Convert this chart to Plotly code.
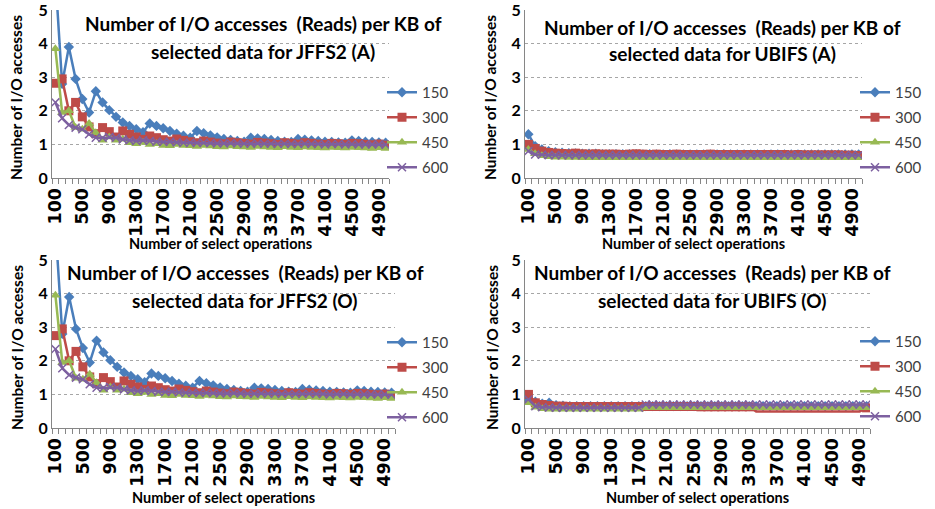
import plotly.graph_objects as go

# ---------------- data ----------------
ops = list(range(100, 5001, 100))
series_names = ["150", "300", "450", "600"]
tick_vals = list(range(100, 5000, 400))
tick_labels = [str(v) for v in tick_vals]
y_ticks = [0, 1, 2, 3, 4, 5]

jffs2_a_150 = [6.0, 2.8, 3.9, 2.95, 2.35, 1.95, 2.58, 2.25, 2.02, 1.82,
               1.65, 1.55, 1.45, 1.36, 1.62, 1.55, 1.48, 1.4, 1.32, 1.26,
               1.2, 1.4, 1.33, 1.27, 1.21, 1.16, 1.13, 1.1, 1.08, 1.2,
               1.18, 1.16, 1.13, 1.1, 1.08, 1.07, 1.16, 1.14, 1.12, 1.1,
               1.08, 1.07, 1.06, 1.05, 1.12, 1.1, 1.08, 1.07, 1.06, 1.05]
jffs2_a_300 = [2.82, 2.95, 2.0, 2.25, 1.82, 1.52, 1.32, 1.5, 1.38, 1.22,
               1.4, 1.3, 1.22, 1.15, 1.25, 1.2, 1.14, 1.1, 1.16, 1.12,
               1.08, 1.05, 1.1, 1.07, 1.04, 1.02, 1.07, 1.05, 1.03, 1.01,
               1.06, 1.04, 1.02, 1.0, 1.05, 1.03, 1.01, 1.05, 1.03, 1.01,
               1.0, 1.03, 1.02, 1.0, 1.03, 1.02, 1.0, 0.99, 1.01, 0.98]
jffs2_a_450 = [3.85, 1.95, 2.0, 1.5, 1.45, 1.62, 1.35, 1.12, 1.22, 1.12,
               1.15, 1.05, 1.02, 1.06, 1.0, 1.02, 0.97, 0.96, 1.0, 0.97,
               0.96, 0.94, 0.97, 0.95, 0.93, 0.92, 0.95, 0.93, 0.92, 0.91,
               0.94, 0.92, 0.91, 0.9, 0.93, 0.91, 0.9, 0.92, 0.91, 0.9,
               0.89, 0.91, 0.9, 0.89, 0.91, 0.9, 0.89, 0.88, 0.9, 0.88]
jffs2_a_600 = [2.25, 1.78, 1.58, 1.5, 1.45, 1.3, 1.2, 1.2, 1.22, 1.2,
               1.15, 1.12, 1.1, 1.12, 1.1, 1.08, 1.07, 1.08, 1.06, 1.05,
               1.05, 1.04, 1.05, 1.04, 1.03, 1.03, 1.04, 1.03, 1.02, 1.02,
               1.03, 1.02, 1.02, 1.01, 1.02, 1.01, 1.01, 1.02, 1.01, 1.01,
               1.0, 1.01, 1.01, 1.0, 1.01, 1.0, 1.0, 1.0, 1.0, 0.99]

ubifs_a_150 = [1.3, 0.95, 0.85, 0.8, 0.77, 0.75, 0.74, 0.73, 0.72, 0.72,
               0.72, 0.71, 0.71, 0.71, 0.71, 0.71, 0.71, 0.7, 0.71, 0.7,
               0.7, 0.71, 0.7, 0.7, 0.7, 0.7, 0.7, 0.7, 0.7, 0.71,
               0.7, 0.7, 0.7, 0.7, 0.7, 0.7, 0.7, 0.7, 0.7, 0.7,
               0.7, 0.7, 0.7, 0.7, 0.7, 0.7, 0.7, 0.7, 0.7, 0.7]
ubifs_a_300 = [1.0, 0.88, 0.8, 0.76, 0.74, 0.73, 0.72, 0.74, 0.72, 0.71,
               0.72, 0.71, 0.71, 0.71, 0.7, 0.71, 0.72, 0.71, 0.7, 0.71,
               0.7, 0.7, 0.71, 0.7, 0.7, 0.7, 0.7, 0.71, 0.7, 0.7,
               0.7, 0.7, 0.7, 0.7, 0.7, 0.7, 0.7, 0.7, 0.7, 0.69,
               0.7, 0.69, 0.69, 0.69, 0.69, 0.69, 0.69, 0.68, 0.68, 0.67]
ubifs_a_450 = [0.85, 0.72, 0.66, 0.63, 0.62, 0.62, 0.61, 0.61, 0.6, 0.6,
               0.6, 0.6, 0.6, 0.6, 0.6, 0.6, 0.6, 0.6, 0.6, 0.6,
               0.6, 0.6, 0.6, 0.6, 0.6, 0.6, 0.6, 0.6, 0.6, 0.6,
               0.6, 0.6, 0.6, 0.6, 0.6, 0.6, 0.6, 0.6, 0.6, 0.6,
               0.6, 0.6, 0.6, 0.6, 0.6, 0.6, 0.6, 0.6, 0.6, 0.6]
ubifs_a_600 = [0.8, 0.7, 0.69, 0.68, 0.68, 0.68, 0.68, 0.68, 0.68, 0.68,
               0.68, 0.68, 0.68, 0.68, 0.68, 0.68, 0.68, 0.68, 0.68, 0.68,
               0.68, 0.68, 0.68, 0.68, 0.68, 0.68, 0.68, 0.68, 0.68, 0.68,
               0.68, 0.68, 0.68, 0.68, 0.68, 0.68, 0.68, 0.68, 0.68, 0.68,
               0.68, 0.68, 0.68, 0.68, 0.68, 0.68, 0.68, 0.68, 0.68, 0.68]

jffs2_o_150 = [6.0, 2.8, 3.9, 2.95, 2.38, 1.95, 2.6, 2.25, 2.02, 1.82,
               1.65, 1.55, 1.45, 1.36, 1.62, 1.55, 1.48, 1.4, 1.32, 1.26,
               1.2, 1.4, 1.33, 1.27, 1.21, 1.16, 1.13, 1.1, 1.08, 1.2,
               1.18, 1.16, 1.13, 1.1, 1.08, 1.07, 1.16, 1.14, 1.12, 1.1,
               1.08, 1.07, 1.06, 1.05, 1.12, 1.1, 1.08, 1.07, 1.06, 1.05]
jffs2_o_300 = [2.75, 2.95, 2.0, 2.28, 1.82, 1.52, 1.32, 1.5, 1.38, 1.22,
               1.4, 1.3, 1.22, 1.15, 1.25, 1.2, 1.14, 1.1, 1.16, 1.12,
               1.08, 1.05, 1.1, 1.07, 1.04, 1.02, 1.07, 1.05, 1.03, 1.01,
               1.06, 1.04, 1.02, 1.0, 1.05, 1.03, 1.01, 1.05, 1.03, 1.01,
               1.0, 1.03, 1.02, 1.0, 1.03, 1.02, 1.0, 0.99, 1.01, 0.97]
jffs2_o_450 = [3.95, 1.95, 2.0, 1.48, 1.45, 1.6, 1.35, 1.12, 1.22, 1.12,
               1.15, 1.05, 1.02, 1.06, 1.0, 1.02, 0.97, 0.96, 1.0, 0.97,
               0.96, 0.94, 0.97, 0.95, 0.93, 0.92, 0.95, 0.93, 0.92, 0.91,
               0.94, 0.92, 0.91, 0.9, 0.93, 0.91, 0.9, 0.92, 0.91, 0.9,
               0.89, 0.91, 0.9, 0.89, 0.91, 0.9, 0.89, 0.88, 0.9, 0.88]
jffs2_o_600 = [2.35, 1.78, 1.58, 1.5, 1.45, 1.3, 1.2, 1.2, 1.22, 1.2,
               1.15, 1.12, 1.1, 1.12, 1.1, 1.08, 1.07, 1.08, 1.06, 1.05,
               1.05, 1.04, 1.05, 1.04, 1.03, 1.03, 1.04, 1.03, 1.02, 1.02,
               1.03, 1.02, 1.02, 1.01, 1.02, 1.01, 1.01, 1.02, 1.01, 1.01,
               1.0, 1.01, 1.01, 1.0, 1.01, 1.0, 1.0, 1.0, 1.0, 0.99]

ubifs_o_150 = [0.85, 0.78, 0.72, 0.75, 0.68, 0.66, 0.65, 0.65, 0.65, 0.65,
               0.65, 0.65, 0.65, 0.65, 0.65, 0.65, 0.65, 0.65, 0.65, 0.65,
               0.65, 0.65, 0.65, 0.65, 0.65, 0.65, 0.65, 0.65, 0.65, 0.65,
               0.65, 0.65, 0.65, 0.65, 0.65, 0.65, 0.65, 0.65, 0.65, 0.65,
               0.65, 0.65, 0.65, 0.65, 0.65, 0.65, 0.65, 0.65, 0.65, 0.65]
ubifs_o_300 = [1.0, 0.75, 0.7, 0.67, 0.65, 0.65, 0.64, 0.64, 0.64, 0.64,
               0.64, 0.64, 0.64, 0.64, 0.64, 0.64, 0.64, 0.64, 0.64, 0.64,
               0.64, 0.64, 0.64, 0.64, 0.64, 0.63, 0.63, 0.63, 0.63, 0.63,
               0.63, 0.63, 0.63, 0.49, 0.49, 0.49, 0.49, 0.49, 0.49, 0.49,
               0.49, 0.49, 0.49, 0.49, 0.49, 0.49, 0.49, 0.49, 0.49, 0.6]
ubifs_o_450 = [0.75, 0.62, 0.57, 0.56, 0.56, 0.56, 0.56, 0.56, 0.56, 0.56,
               0.56, 0.56, 0.56, 0.56, 0.56, 0.56, 0.56, 0.6, 0.6, 0.6,
               0.6, 0.6, 0.6, 0.6, 0.6, 0.6, 0.6, 0.6, 0.6, 0.6,
               0.6, 0.6, 0.6, 0.6, 0.6, 0.6, 0.6, 0.6, 0.6, 0.6,
               0.6, 0.6, 0.6, 0.6, 0.6, 0.6, 0.6, 0.6, 0.6, 0.6]
ubifs_o_600 = [0.85, 0.65, 0.62, 0.61, 0.6, 0.6, 0.6, 0.6, 0.6, 0.6,
               0.6, 0.6, 0.6, 0.6, 0.6, 0.6, 0.6, 0.7, 0.7, 0.7,
               0.7, 0.7, 0.7, 0.7, 0.7, 0.7, 0.7, 0.7, 0.7, 0.7,
               0.7, 0.7, 0.7, 0.7, 0.7, 0.7, 0.7, 0.7, 0.7, 0.7,
               0.7, 0.7, 0.7, 0.7, 0.7, 0.7, 0.7, 0.7, 0.7, 0.7]

panel_titles = [
    ("Number of I/O accesses  (Reads) per KB of", "selected data for JFFS2 (A)"),
    ("Number of I/O accesses  (Reads) per KB of", "selected data for UBIFS (A)"),
    ("Number of I/O accesses  (Reads) per KB of", "selected data for JFFS2 (O)"),
    ("Number of I/O accesses  (Reads) per KB of", "selected data for UBIFS (O)"),
]
panel_data = [
    [jffs2_a_150, jffs2_a_300, jffs2_a_450, jffs2_a_600],
    [ubifs_a_150, ubifs_a_300, ubifs_a_450, ubifs_a_600],
    [jffs2_o_150, jffs2_o_300, jffs2_o_450, jffs2_o_600],
    [ubifs_o_150, ubifs_o_300, ubifs_o_450, ubifs_o_600],
]
x_title = "Number of select operations"
y_title = "Number of I/O accesses"

# ---------------- style ----------------
W, H = 935, 509
colors = ["#4A7EBB", "#BE4B48", "#98B954", "#7D60A0"]
symbols = ["diamond", "square", "triangle-up", "x-thin"]
msizes = [8, 9, 9, 8]
grey = "#868686"
FONT = "Lato, 'Open Sans', sans-serif"
NUMFONT = "'DejaVu Sans', sans-serif"


def px(x):
    return x / W


def py(y):
    return 1 - y / H


# pixel boxes of the four plot areas: (left, right, top, bottom)
boxes = [(52, 389, 10, 178), (525, 862, 10, 178),
         (52, 395, 260, 428), (525, 870, 260, 428)]
title_pos = [(263, 24, 51), (722, 27, 53), (245, 272, 300), (712, 272, 300)]
legend_pos = [(382, 76), (855, 76), (382, 326), (855, 325)]
xtitle_y = [244, 244, 497, 497]
ytitle_x = [16, 490, 17, 492]

fig = go.Figure()
annotations = []
layout = {}
for p in range(4):
    sfx = "" if p == 0 else str(p + 1)
    lg = "legend" + sfx
    for s in range(4):
        vals = panel_data[p][s]
        sym = symbols[s]
        mcolor = colors[s]
        if p == 3 and s == 1:
            # markers of this series are hidden under the 450 series in the original
            mcolor = [colors[s] if v > 0.55 else "rgba(0,0,0,0)" for v in vals]
        marker = dict(symbol=sym, size=msizes[s], color=mcolor)
        if sym == "x-thin":
            marker["line"] = dict(width=1.5, color=colors[s])
        fig.add_trace(go.Scatter(
            x=ops, y=vals, name=series_names[s],
            mode="lines+markers", line=dict(color=colors[s], width=2.5),
            marker=marker, xaxis="x" + sfx, yaxis="y" + sfx,
            legend=lg, legendgroup=f"g{p}{s}",
        ))
    l, r, t, b = boxes[p]
    layout["xaxis" + sfx] = dict(
        domain=[px(l), px(r)], anchor="y" + sfx, range=[50, 5050],
        automargin=False, ticklabeloverflow="allow",
        tickmode="array", tickvals=tick_vals, ticktext=tick_labels,
        tickangle=-90, ticks="", showgrid=False, zeroline=False,
        showline=True, linecolor=grey, linewidth=1,
        tickfont=dict(family=NUMFONT, size=17.5, color="#000000", weight="bold"),
        ticklabelstandoff=2,
        minor=dict(tickmode="array", tickvals=[v - 50 for v in ops] + [5050],
                   ticks="outside", ticklen=5, tickcolor=grey, showgrid=False),
    )
    layout["yaxis" + sfx] = dict(
        domain=[py(b), py(t)], anchor="x" + sfx, range=[0, 5],
        automargin=False, ticklabeloverflow="allow",
        tickmode="array", tickvals=y_ticks, ticks="",
        showgrid=True, gridcolor="#A6A6A6", griddash="dot", gridwidth=1,
        zeroline=False, showline=True, linecolor=grey, linewidth=1,
        tickfont=dict(family=FONT, size=16, color="#000000", weight="bold"),
    )
    lx, ly = legend_pos[p]
    layout[lg] = dict(
        x=px(lx), y=py(ly),
        xanchor="left", yanchor="top",
        bgcolor="rgba(0,0,0,0)", tracegroupgap=2.5,
        font=dict(family=FONT, size=15, color="#404040"),
    )
    tx, ty1, ty2 = title_pos[p]
    for txt, ty in zip(panel_titles[p], (ty1, ty2)):
        annotations.append(dict(
            text=txt, x=px(tx), y=py(ty), xref="paper", yref="paper",
            xanchor="center", yanchor="middle", showarrow=False,
            font=dict(family=FONT, size=19, color="#000000", weight="bold"),
        ))
    annotations.append(dict(
        text=x_title, x=px((l + r) / 2), y=py(xtitle_y[p]),
        xref="paper", yref="paper", xanchor="center", yanchor="middle",
        showarrow=False,
        font=dict(family=FONT, size=14.5, color="#000000", weight="bold"),
    ))
    annotations.append(dict(
        text=y_title, x=px(ytitle_x[p]), y=py((t + b) / 2 + 4),
        xref="paper", yref="paper", xanchor="center", yanchor="middle",
        textangle=-90, showarrow=False,
        font=dict(family=FONT, size=15.5, color="#000000", weight="bold"),
    ))

fig.update_layout(
    width=W, height=H, margin=dict(l=0, r=0, t=0, b=0),
    paper_bgcolor="white", plot_bgcolor="white",
    annotations=annotations, **layout,
)
# remove the browser's default 8px page margin so the figure fills the window
fig.write_html("out.html", config={"displayModeBar": False},
               post_script="document.body.style.margin='0';")
